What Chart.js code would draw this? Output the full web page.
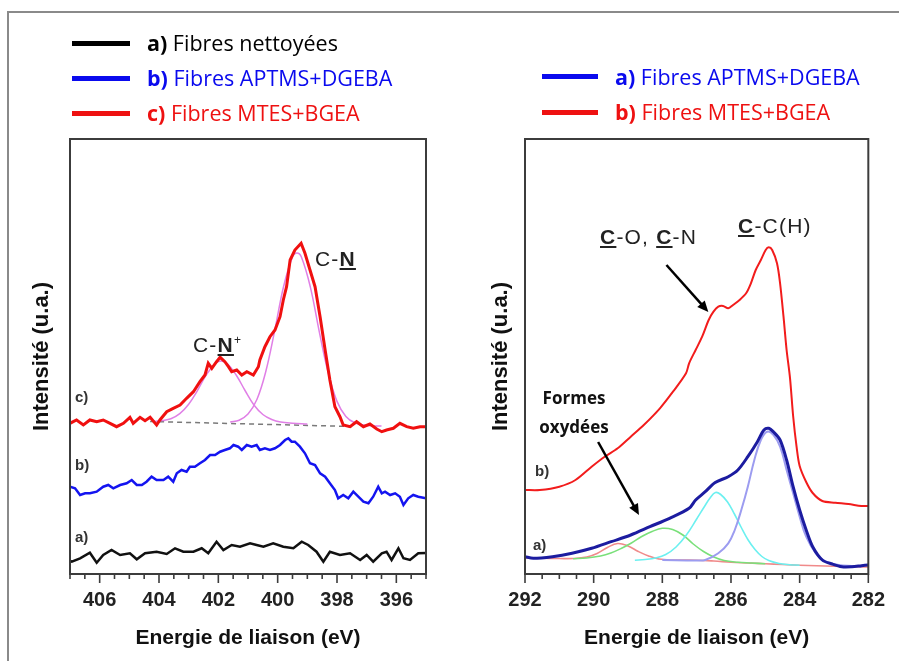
<!DOCTYPE html>
<html><head><meta charset="utf-8">
<script src="https://cdn.jsdelivr.net/npm/chart.js@4.4.1/dist/chart.umd.min.js"></script>
<style>
html,body{margin:0;padding:0;background:#fff;}
#wrap{position:relative;width:899px;height:661px;overflow:hidden;background:#fff;}
canvas{position:absolute;top:0;}
.t{position:absolute;white-space:nowrap;}
.leg{font-family:'Open Sans',sans-serif;font-size:21.5px;line-height:28px;height:28px;}
.ln{position:absolute;height:5px;}
.ann{font-family:'Liberation Sans',Arial,sans-serif;font-size:21px;line-height:24px;color:#222;letter-spacing:1.2px;}
.ann u{text-decoration-thickness:2px;text-underline-offset:2px;}
.pl{font-family:'Liberation Sans',Arial,sans-serif;font-size:15px;font-weight:bold;line-height:18px;color:#333;}
.fo{font-family:'Open Sans',sans-serif;font-size:17px;font-weight:bold;line-height:22px;color:#111;text-align:center;width:100px;}
.frame{position:absolute;background:#8a8a8a;}
</style></head>
<body>
<div id="wrap">
  <div class="frame" style="left:7px;top:11px;width:892px;height:2px;"></div>
  <div class="frame" style="left:7px;top:11px;width:2px;height:650px;"></div>
  <canvas id="c1" width="450" height="661" style="left:0;width:450px;height:661px;"></canvas>
  <canvas id="c2" width="449" height="661" style="left:450px;width:449px;height:661px;"></canvas>

  <!-- left legend -->
  <div class="ln" style="left:72px;top:41px;width:58px;background:#000;"></div>
  <div class="ln" style="left:72px;top:76px;width:58px;background:#0a0aee;"></div>
  <div class="ln" style="left:72px;top:111px;width:58px;background:#ee1111;"></div>
  <div class="t leg" style="left:147px;top:29px;color:#000;"><b>a)</b> Fibres nettoyées</div>
  <div class="t leg" style="left:147px;top:64px;color:#0a0aee;"><b>b)</b> Fibres APTMS+DGEBA</div>
  <div class="t leg" style="left:147px;top:99px;color:#ee1111;"><b>c)</b> Fibres MTES+BGEA</div>
  <!-- right legend -->
  <div class="ln" style="left:542px;top:74px;width:56px;background:#0a0aee;"></div>
  <div class="ln" style="left:542px;top:110px;width:56px;background:#ee1111;"></div>
  <div class="t leg" style="left:615px;top:63px;color:#0a0aee;"><b>a)</b> Fibres APTMS+DGEBA</div>
  <div class="t leg" style="left:615px;top:98px;color:#ee1111;"><b>b)</b> Fibres MTES+BGEA</div>

  <!-- annotations -->
  <div class="t ann" style="left:193px;top:328px;">C-<b><u>N</u></b><sup style="font-size:12px;">+</sup></div>
  <div class="t ann" style="left:315px;top:247px;">C-<b><u>N</u></b></div>
  <div class="t ann" style="left:600px;top:225px;"><b><u>C</u></b>-O, <b><u>C</u></b>-N</div>
  <div class="t ann" style="left:738px;top:214px;"><b><u>C</u></b>-C(H)</div>
  <div class="t pl" style="left:75px;top:388px;">c)</div>
  <div class="t pl" style="left:75px;top:456px;">b)</div>
  <div class="t pl" style="left:75px;top:528px;">a)</div>
  <div class="t pl" style="left:535px;top:462px;">b)</div>
  <div class="t pl" style="left:533px;top:536px;">a)</div>
  <div class="t fo" style="left:524px;top:387px;">Formes</div>
  <div class="t fo" style="left:524px;top:416px;">oxydées</div>
</div>
<script>
// ---------------- Left panel: N1s (eV, intensity a.u.) ----------------
const N_BLACK_E = [407.0,406.94,406.66,406.33,406.10,405.88,405.60,405.31,404.98,404.75,404.47,404.08,403.74,403.46,403.18,402.84,402.56,402.34,402.06,401.83,401.55,401.27,400.93,400.71,400.48,400.15,399.81,399.47,399.19,398.97,398.69,398.46,398.24,397.90,397.56,397.22,397.00,396.78,396.49,396.33,396.16,395.93,395.76,395.54,395.26,395.0];
const N_BLACK_I = [13,12.3,15.7,21.3,11.3,19,24,19,20.7,14.7,20.7,22.3,20,25.7,22.3,22.3,25.7,20.7,32.3,24,29,27.3,30.7,29,27.3,30.7,27.3,25.7,32.3,29,22.3,12.3,22.3,19,20.7,14,19,12.3,20.7,22.3,14,25.7,15.7,14,20.7,21];

const N_BLUE_E = [407.0,406.83,406.66,406.49,406.33,406.10,405.88,405.71,405.54,405.31,405.09,404.92,404.75,404.58,404.42,404.25,404.08,403.85,403.69,403.52,403.40,403.24,403.07,402.96,402.79,402.62,402.45,402.28,402.11,401.94,401.78,401.61,401.49,401.33,401.21,401.04,400.88,400.71,400.60,400.43,400.26,400.09,399.92,399.75,399.64,399.53,399.42,399.25,399.08,398.91,398.74,398.57,398.40,398.24,398.07,397.96,397.79,397.62,397.45,397.28,397.11,396.94,396.78,396.61,396.49,396.38,396.21,396.04,395.88,395.76,395.60,395.43,395.26,395.0];
const N_BLUE_I = [87.3,85.7,79,80.7,80.7,82.3,87.3,89,85.7,89,90.7,94,89,89,92.3,97.3,94,94,97.3,92.3,100.7,104,102.3,107.3,107.3,110.7,114,119,119,122.3,124,125.7,129,127.3,124,129,127.3,129,124,125.7,124,125.7,129,134,135.7,132.3,132.3,127.3,120.7,110.7,109,100.7,97.3,90.7,84,75.7,79,75.7,82.3,77.3,72.3,70.7,77.3,87.3,80.7,82.3,79,80.7,77.3,69,75.7,79,77.3,75.7];

const N_RED_E = [407.0,406.78,406.55,406.33,406.10,405.88,405.65,405.43,405.20,404.98,404.87,404.64,404.47,404.30,404.08,403.97,403.74,403.52,403.29,403.07,402.84,402.62,402.45,402.34,402.22,402.06,401.94,401.78,401.66,401.55,401.38,401.21,401.04,400.82,400.65,400.60,400.43,400.26,400.09,399.92,399.81,399.70,399.58,399.42,399.21,399.08,398.91,398.74,398.57,398.40,398.24,398.07,397.90,397.79,397.56,397.34,397.11,396.89,396.66,396.49,396.33,396.10,395.88,395.65,395.43,395.20,395.0];
const N_RED_I = [150.7,154,149,154,152.3,154,150.7,147.3,150.7,156.7,150.7,156.7,153.3,156.7,149,154,162.3,165.7,169,175.7,182.3,192.3,199,210.7,205.7,212.3,216.7,212.3,207.3,202.3,204,199,202.3,199,207.3,214,227.3,237.3,244,257.3,274,287.3,314,324,330.7,320.7,304,287.3,257.3,224,194,167.3,157.3,149,147.3,152.3,147.3,150,145,142.3,144,145.7,150.7,147.3,145.7,147.3,147.3];

const N_FIT1_E = [404.2,403.9,403.6,403.3,403.0,402.7,402.4,402.1,401.9,401.7,401.4,401.1,400.8,400.5,400.2,399.9,399.5,399.0];
const N_FIT1_I = [152.5,153.5,155.2,160.3,169.7,183.7,199.3,210.6,213,210.4,199,183.5,169,159.5,154.5,152,150.8,150];
const N_FIT2_E = [401.6,401.3,401.0,400.7,400.4,400.1,399.8,399.5,399.35,399.2,398.9,398.6,398.3,398.0,397.7,397.4,397.0,396.5];
const N_FIT2_I = [152,153.8,160,174.5,202.5,243.3,287.5,317,321,317,287.2,242.7,201.6,172.6,157.6,151.3,148.5,148];
const N_BASE_E = [404.3,397.5];
const N_BASE_I = [152.5,147.5];

// ---------------- Right panel: C1s ----------------
const C_RED_E = [292.0,291.57,291.0,290.53,290.06,289.68,289.30,288.92,288.54,288.07,287.69,287.31,287.22,287.03,286.84,286.65,286.51,286.37,286.23,286.08,285.94,285.75,285.56,285.42,285.28,285.13,284.99,284.90,284.80,284.66,284.57,284.47,284.38,284.28,284.19,284.09,284.00,283.81,283.62,283.34,282.96,282.58,282.20,282.0];
const C_RED_I = [84,84,87.3,94,107.3,117.3,125.7,137.3,149,165.7,182.3,200.7,210.7,224,237.3,254,262.3,267.3,268,265.7,269,274,280.7,290.7,304,314,324,326.7,324,310.7,290.7,257.3,224,195.7,158,127.3,108,92,81,73,71.3,70,68,68];

const C_BLUE_E = [292.0,291.76,291.2,290.63,290.06,289.49,288.92,288.36,287.79,287.22,287.03,286.75,286.46,286.08,285.80,285.51,285.23,285.04,284.90,284.76,284.57,284.38,284.19,284.00,283.81,283.62,283.34,283.05,282.77,282.48,282.20,282.0];
const C_BLUE_I = [17.3,15.7,17.3,20.7,25.7,32.3,39,47.3,55.7,65.7,74,82.3,91.5,97.3,104,117.3,132.3,144,145.7,142,134,114,87.3,64,44,27.3,14,10,7.3,7.3,8.3,9];

const C_BASE_E = [292.0,291.5,291.0,290.6,290.2,289.9,289.6,289.3,289.0,288.7,288.4,288.1,287.7,287.0,286.5,286.0,285.5,285.0,284.5,284.0,283.5,283.0,282.5,282.0];
const C_BASE_I = [16,15.7,15.5,15.5,17,20.5,26.5,30.5,28,22.5,18,15,14,13.8,13,11.8,11,10.2,9.5,8.8,8.2,7.7,7.3,7];
const C_GREEN_E = [290.6,290.2,289.8,289.5,289.2,288.9,288.6,288.3,288.0,287.7,287.4,287.1,286.8,286.5,286.2,285.8,285.4,285.0];
const C_GREEN_I = [15.3,16,18,21,25.5,31,37.5,42.5,45.7,44.5,39,30,22.5,17,13.5,11.8,11,10.2];
const C_CYAN_E = [288.8,288.5,288.2,287.9,287.6,287.3,287.0,286.8,286.6,286.45,286.3,286.1,285.9,285.7,285.5,285.3,285.1,284.9,284.6,284.3,284.0];
const C_CYAN_I = [13.8,14.5,16,19.5,27,39,55,66,76.5,81.5,79.5,72,60,46.5,34,24.5,17.5,13.5,10.5,9.3,8.8];
const C_LAV_E = [288.0,287.0,286.75,286.37,286.08,285.89,285.70,285.51,285.32,285.13,284.95,284.76,284.57,284.38,284.19,284.00,283.81,283.53,283.24,282.86,282.48,282.2];
const C_LAV_I = [14,13.5,14,20.7,30.7,44,64,87.3,114,134,142.3,139,127.3,104,80.7,57.3,37.3,20.7,12.3,9,8,7.5];

// arrows (data units): [eV, intensity]
const ARROW_CO = [[287.88,309],[286.66,262]];
const ARROW_OX = [[289.87,132],[288.68,59]];

const N_RANGE = [395,407];
const C_RANGE = [282,292];
const Y_RANGE = [0,435];

const pts = (E,I) => E.map((e,i)=>({x:e,y:I[i]}));
const FONT = "'Liberation Sans', Arial, sans-serif";

const framePlugin = {
  id:'frame',
  afterDraw(chart){
    const {ctx, chartArea:a, scales:{x}} = chart;
    ctx.save();
    ctx.strokeStyle = '#3c3c3c';
    ctx.lineWidth = 2;
    ctx.strokeRect(a.left, a.top, a.right-a.left, a.bottom-a.top);
    ctx.lineWidth = 1.6;
    x.ticks.forEach(t=>{
      const px = x.getPixelForValue(t.value);
      const major = Math.abs(t.value % 2) < 1e-9;
      ctx.beginPath();
      ctx.moveTo(px, a.bottom);
      ctx.lineTo(px, a.bottom + (major ? 9 : 5));
      ctx.stroke();
    });
    const arrows = chart.options.plugins.frame && chart.options.plugins.frame.arrows;
    if (arrows){
      const y = chart.scales.y;
      arrows.forEach(ar=>{
        const x0 = x.getPixelForValue(ar[0][0]), y0 = y.getPixelForValue(ar[0][1]);
        const x1 = x.getPixelForValue(ar[1][0]), y1 = y.getPixelForValue(ar[1][1]);
        const ang = Math.atan2(y1-y0, x1-x0);
        const hl = 11, hw = 5;
        ctx.strokeStyle = '#000'; ctx.fillStyle = '#000'; ctx.lineWidth = 2.5;
        ctx.beginPath();
        ctx.moveTo(x0,y0);
        ctx.lineTo(x1 - Math.cos(ang)*hl*0.8, y1 - Math.sin(ang)*hl*0.8);
        ctx.stroke();
        ctx.beginPath();
        ctx.moveTo(x1,y1);
        ctx.lineTo(x1 - Math.cos(ang)*hl - Math.sin(ang)*hw, y1 - Math.sin(ang)*hl + Math.cos(ang)*hw);
        ctx.lineTo(x1 - Math.cos(ang)*hl + Math.sin(ang)*hw, y1 - Math.sin(ang)*hl - Math.cos(ang)*hw);
        ctx.closePath();
        ctx.fill();
      });
    }
    ctx.restore();
  }
};

function line(data, color, width, extra){
  return Object.assign({data, borderColor:color, borderWidth:width, pointRadius:0, fill:false, tension:0}, extra||{});
}

function makeOptions(range, yWidth, yTitlePad, rightPad, arrows){
  return {
    responsive:false, animation:false, devicePixelRatio:1,
    layout:{padding:{left:0, top:139, right:rightPad, bottom:0}},
    plugins:{legend:{display:false}, tooltip:{enabled:false}, title:{display:false}, frame:{arrows}},
    scales:{
      x:{type:'linear', reverse:true, min:range[0], max:range[1],
         grid:{display:false, drawTicks:false, tickLength:0}, border:{display:false},
         ticks:{stepSize:0.5, autoSkip:false, maxRotation:0, minRotation:0, padding:14, color:'#222',
                font:{family:FONT, size:20, weight:'bold'},
                callback:(v)=> (Math.abs(v%2)<1e-9 ? String(v) : '')},
         title:{display:true, text:'Energie de liaison (eV)', color:'#111', font:{family:FONT, size:21, weight:'bold'}, padding:{top:0,bottom:10}},
         afterFit:(s)=>{ s.height = 87; }
      },
      y:{type:'linear', min:Y_RANGE[0], max:Y_RANGE[1],
         grid:{display:false, drawTicks:false}, border:{display:false},
         ticks:{display:false},
         title:{display:true, text:'Intensité (u.a.)', color:'#111', font:{family:FONT, size:22, weight:'bold'}, padding:{top:yTitlePad,bottom:0}},
         afterFit:(s)=>{ s.width = yWidth; }
      }
    }
  };
}

new Chart(document.getElementById('c1'), {
  type:'line',
  data:{datasets:[
    line(pts(N_RED_E,N_RED_I), '#f01010', 3),
    line(pts(N_BLUE_E,N_BLUE_I), '#1414f0', 2.5),
    line(pts(N_BLACK_E,N_BLACK_I), '#111111', 2.5),
    line(pts(N_FIT1_E,N_FIT1_I), '#e07fe6', 1.5, {tension:0.4}),
    line(pts(N_FIT2_E,N_FIT2_I), '#e07fe6', 1.5, {tension:0.4}),
    line(pts(N_BASE_E,N_BASE_I), '#7a7a7a', 1.5, {borderDash:[5,4]})
  ]},
  options: makeOptions(N_RANGE, 70, 29, 24, null),
  plugins:[framePlugin]
});

new Chart(document.getElementById('c2'), {
  type:'line',
  data:{datasets:[
    line(pts(C_RED_E,C_RED_I), '#f21c1c', 2, {tension:0.3}),
    line(pts(C_BLUE_E,C_BLUE_I), '#1c1ca0', 3, {tension:0.3}),
    line(pts(C_LAV_E,C_LAV_I), '#9c9cf0', 2, {tension:0.4}),
    line(pts(C_CYAN_E,C_CYAN_I), '#6cf0f0', 1.6, {tension:0.4}),
    line(pts(C_GREEN_E,C_GREEN_I), '#7ae07a', 1.6, {tension:0.4}),
    line(pts(C_BASE_E,C_BASE_I), '#f08a8a', 1.6, {tension:0.4})
  ]},
  options: makeOptions(C_RANGE, 75, 38, 22, [ARROW_CO, ARROW_OX]),
  plugins:[framePlugin]
});
</script>
</body></html>
